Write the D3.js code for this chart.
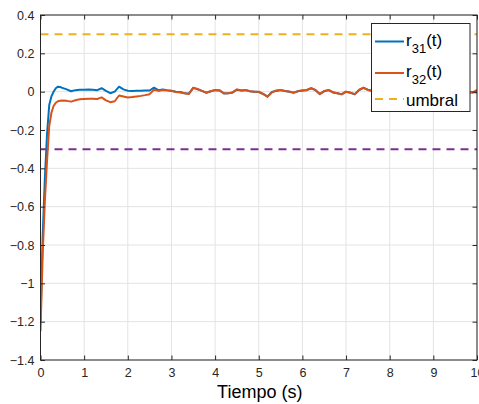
<!DOCTYPE html>
<html>
<head>
<meta charset="utf-8">
<script src="https://cdn.jsdelivr.net/npm/d3@7"></script>
<style>
  html, body { margin: 0; padding: 0; background: #fff; }
  svg { display: block; font-family: "Liberation Sans", Arial, Helvetica, sans-serif; }
</style>
</head>
<body>
<svg id="chart" width="479" height="404"></svg>
<script>
// ---------------- DATA ----------------
const time = [0, 0.05, 0.1, 0.15, 0.2, 0.25, 0.3, 0.35, 0.4, 0.45, 0.5,
  0.6, 0.7, 0.8, 0.9, 1.0, 1.1, 1.2, 1.3, 1.4, 1.5, 1.6, 1.7, 1.8, 1.9,
  2.0, 2.1, 2.2, 2.3, 2.4, 2.5, 2.6, 2.7, 2.8, 2.9,
  3.0, 3.1, 3.2, 3.3, 3.4, 3.5, 3.6, 3.7, 3.8, 3.9,
  4.0, 4.1, 4.2, 4.3, 4.4, 4.5, 4.6, 4.7, 4.8, 4.9,
  5.0, 5.1, 5.2, 5.3, 5.4, 5.5, 5.6, 5.7, 5.8, 5.9,
  6.0, 6.1, 6.2, 6.3, 6.4, 6.5, 6.6, 6.7, 6.8, 6.9,
  7.0, 7.1, 7.2, 7.3, 7.4, 7.5, 7.6, 7.7, 7.8, 7.9,
  8.0, 8.1, 8.2, 8.3, 8.4, 8.5, 8.6, 8.7, 8.8, 8.9,
  9.0, 9.1, 9.2, 9.3, 9.4, 9.5, 9.6, 9.7, 9.8, 9.9, 10.0];

const r31 = [-1.20, -0.75, -0.45, -0.22, -0.07, -0.025, 0.0, 0.018, 0.026, 0.024, 0.02,
  0.012, 0.002, 0.008, 0.010, 0.010, 0.011, 0.010, 0.008, 0.018, 0.004, -0.008, 0.000, 0.026, 0.012,
  0.005, 0.004, 0.005, 0.005, 0.006, 0.006, 0.021, 0.008, 0.012, 0.008,
  0.005, 0.000, -0.002, -0.008, -0.010, 0.020, 0.012, 0.004, -0.006, 0.002,
  0.008, 0.006, -0.009, -0.008, -0.004, 0.010, 0.006, 0.008, 0.002, 0.000,
  -0.002, -0.012, -0.026, -0.002, 0.004, 0.008, 0.004, 0.000, -0.006, 0.002,
  0.006, 0.008, 0.018, 0.008, -0.012, 0.002, 0.008, -0.004, -0.008, -0.014,
  0.000, -0.006, -0.014, 0.008, 0.020, 0.010, 0.004, -0.006, 0.006, 0.010,
  -0.004, 0.002, 0.012, 0.004, -0.010, 0.006, 0.014, 0.002, -0.006, 0.008,
  0.004, -0.008, 0.010, 0.016, 0.002, -0.006, 0.008, 0.004, -0.004, -0.002, -0.005];

const r32 = [-1.25, -0.85, -0.57, -0.36, -0.18, -0.11, -0.075, -0.058, -0.050, -0.047, -0.046,
  -0.048, -0.052, -0.045, -0.040, -0.038, -0.037, -0.037, -0.038, -0.030, -0.045, -0.055, -0.050, -0.020, -0.025,
  -0.030, -0.028, -0.025, -0.022, -0.018, -0.013, 0.010, 0.004, 0.009, 0.006,
  0.004, -0.002, -0.004, -0.008, -0.012, 0.021, 0.014, 0.004, -0.005, 0.002,
  0.009, 0.008, -0.008, -0.008, -0.004, 0.012, 0.006, 0.009, 0.002, 0.000,
  0.000, -0.012, -0.026, -0.004, 0.006, 0.009, 0.004, 0.001, -0.005, 0.003,
  0.006, 0.009, 0.018, 0.009, -0.013, 0.004, 0.009, -0.003, -0.008, -0.013,
  0.000, -0.005, -0.013, 0.010, 0.021, 0.009, 0.004, -0.004, 0.007, 0.010,
  -0.002, 0.003, 0.012, 0.005, -0.008, 0.006, 0.013, 0.003, -0.005, 0.008,
  0.005, -0.006, 0.010, 0.015, 0.003, -0.004, 0.008, 0.005, -0.003, -0.005, 0.010];

const umbral = 0.3;
const xTicks = [0, 1, 2, 3, 4, 5, 6, 7, 8, 9, 10];
const yTicks = [0.4, 0.2, 0, -0.2, -0.4, -0.6, -0.8, -1, -1.2, -1.4];
const xDomain = [0, 10];
const yDomain = [-1.4, 0.4];
const xLabel = "Tiempo (s)";

// ---------------- LAYOUT ----------------
const svg = d3.select("#chart");
const L = 40.5, T = 15, R = 477, B = 360;
const x = d3.scaleLinear().domain(xDomain).range([L, R]);
const y = d3.scaleLinear().domain(yDomain).range([B, T]);

const axisColor = "#262626";
const gridColor = "#e3e3e3";
const colors = { r31: "#0072BD", r32: "#D95319", up: "#EDB120", low: "#7E2F8E" };

// grid
const grid = svg.append("g");
grid.selectAll("line.gx").data(xTicks).join("line")
  .attr("x1", d => x(d)).attr("x2", d => x(d)).attr("y1", T).attr("y2", B)
  .attr("stroke", gridColor).attr("stroke-width", 1);
grid.selectAll("line.gy").data(yTicks).join("line")
  .attr("y1", d => y(d)).attr("y2", d => y(d)).attr("x1", L).attr("x2", R)
  .attr("stroke", gridColor).attr("stroke-width", 1);

// clip
svg.append("clipPath").attr("id", "clip").append("rect")
  .attr("x", L).attr("y", T).attr("width", R - L).attr("height", B - T);
const plot = svg.append("g").attr("clip-path", "url(#clip)");

// thresholds
[[umbral, colors.up], [-umbral, colors.low]].forEach(([v, c]) => {
  plot.append("line")
    .attr("x1", x(xDomain[0])).attr("x2", x(xDomain[1]))
    .attr("y1", y(v)).attr("y2", y(v))
    .attr("stroke", c).attr("stroke-width", 2).attr("stroke-dasharray", "8,6");
});

const line = d3.line().x((d, i) => x(time[i])).y(d => y(d));
plot.append("path").datum(r31).attr("d", line)
  .attr("fill", "none").attr("stroke", colors.r31).attr("stroke-width", 2).attr("stroke-linejoin", "round");
plot.append("path").datum(r32).attr("d", line)
  .attr("fill", "none").attr("stroke", colors.r32).attr("stroke-width", 2).attr("stroke-linejoin", "round");

// axes (MATLAB style box with inward ticks)
const tickLen = 4.5;
const axX = d3.axisBottom(x).tickValues(xTicks).tickSize(-tickLen).tickPadding(8).tickFormat(d3.format("d"));
const axXt = d3.axisTop(x).tickValues(xTicks).tickSize(-tickLen).tickFormat("");
const axY = d3.axisLeft(y).tickValues(yTicks).tickSize(-tickLen).tickPadding(6).tickFormat(d => d3.format("")(+d.toFixed(1)));
const axYr = d3.axisRight(y).tickValues(yTicks).tickSize(-tickLen).tickFormat("");

function styleAxis(g) {
  g.select(".domain").remove();
  g.selectAll(".tick line").attr("stroke", axisColor).attr("stroke-width", 1);
  g.selectAll(".tick text").attr("fill", axisColor).style("font-size", "12.5px")
    .style("font-family", "'Liberation Sans', Arial, sans-serif");
}
svg.append("g").attr("transform", `translate(0,${B})`).call(axX).call(styleAxis);
svg.append("g").attr("transform", `translate(0,${T})`).call(axXt).call(styleAxis);
svg.append("g").attr("transform", `translate(${L},0)`).call(axY).call(styleAxis);
svg.append("g").attr("transform", `translate(${R},0)`).call(axYr).call(styleAxis);

// box
svg.append("rect").attr("x", L).attr("y", T).attr("width", R - L).attr("height", B - T)
  .attr("fill", "none").attr("stroke", axisColor).attr("stroke-width", 1);

// x label
svg.append("text").attr("x", (L + R) / 2 + 1).attr("y", 398)
  .attr("text-anchor", "middle").attr("fill", "#000").style("font-size", "18px").text(xLabel);

// legend
const lg = svg.append("g");
lg.append("rect").attr("x", 371.5).attr("y", 23.5).attr("width", 98.5).attr("height", 88)
  .attr("fill", "#fff").attr("stroke", axisColor).attr("stroke-width", 1);
const entries = [
  { sub: "31", color: colors.r31, dash: null, yl: 41.5 },
  { sub: "32", color: colors.r32, dash: null, yl: 73 },
  { label: "umbral", color: colors.up, dash: "8,6", yl: 99 }
];
entries.forEach(e => {
  lg.append("line").attr("x1", 375).attr("x2", 404).attr("y1", e.yl).attr("y2", e.yl)
    .attr("stroke", e.color).attr("stroke-width", 2).attr("stroke-dasharray", e.dash);
  const t = lg.append("text").attr("x", 406).attr("y", e.label ? e.yl + 6.5 : e.yl + 4)
    .attr("fill", "#000").style("font-size", "17px");
  if (e.label) {
    t.text(e.label);
  } else {
    t.append("tspan").text("r");
    t.append("tspan").attr("dy", 7).style("font-size", "13px").text(e.sub);
    t.append("tspan").attr("dy", -7).text("(t)");
  }
});
</script>
</body>
</html>
